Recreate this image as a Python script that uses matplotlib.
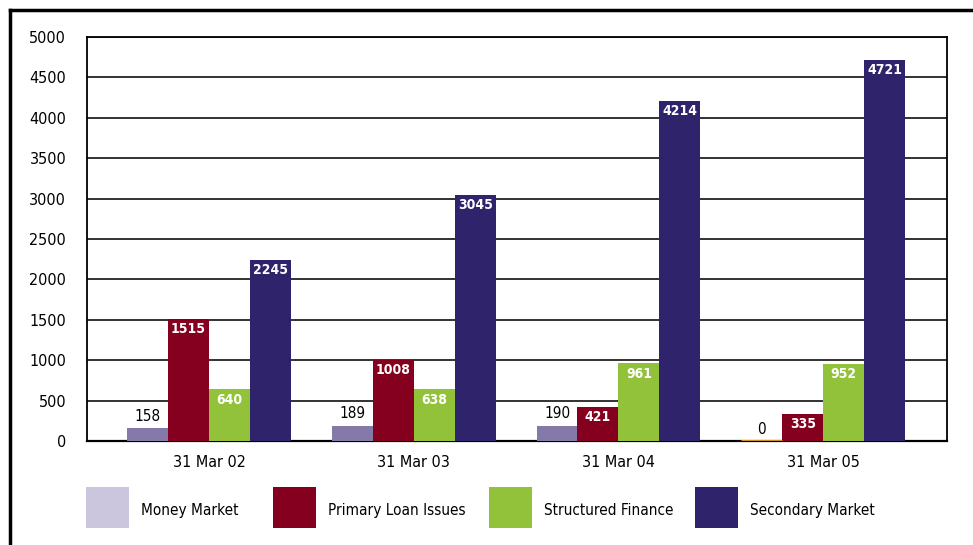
import matplotlib.pyplot as plt
import numpy as np
from matplotlib.patches import Rectangle
from matplotlib.lines import Line2D

plt.rcParams['font.family'] = ['DejaVu Sans']
plt.rcParams['font.stretch'] = 'condensed'

dates = ['31 Mar 02', '31 Mar 03', '31 Mar 04', '31 Mar 05']
money_market = [158, 189, 190, 0]
primary_loans = [1515, 1008, 421, 335]
structured = [640, 638, 961, 952]
secondary = [2245, 3045, 4214, 4721]

series_names = ['Money Market', 'Primary Loan Issues', 'Structured Finance', 'Secondary Market']
bar_colors = ['#8579a9', '#85001f', '#92c23a', '#2f246b']
key_colors = ['#cbc6de', '#85001f', '#92c23a', '#2f246b']

fig = plt.figure(figsize=(9.73, 5.45), dpi=100)
ax = fig.add_axes([0.0894, 0.1908, 0.8839, 0.7413])

x = np.arange(len(dates))
w = 0.2
all_series = [money_market, primary_loans, structured, secondary]
for k, vals in enumerate(all_series):
    xs = x + (k - 1.5) * w
    cols = [bar_colors[k]] * len(vals)
    if k == 0:
        # zero bar shows up as a thin orange line on the baseline
        cols = [('#e8a020' if v == 0 else bar_colors[k]) for v in vals]
    ax.bar(xs, vals, width=w, color=cols, zorder=3, linewidth=0)
    for xi, v, c in zip(xs, vals, cols):
        if k == 0:
            if v == 0:
                ax.plot([xi - w / 2, xi + w / 2], [0, 0], color=c, lw=2, zorder=4,
                        solid_capstyle='butt')
            ax.text(xi, v + 55, str(v), ha='center', va='bottom', fontsize=11,
                    color='black', zorder=5)
        else:
            ax.text(xi, v - 40, str(v), ha='center', va='top', fontsize=10,
                    color='white', fontweight='bold', zorder=5)

ax.set_xlim(-0.596, 3.605)
ax.set_ylim(0, 5000)
ax.set_yticks(np.arange(0, 5001, 500))
ax.set_xticks(x)
ax.set_xticklabels(dates)
ax.tick_params(axis='both', length=0, labelsize=11.5, colors='black')
ax.tick_params(axis='y', pad=15)
ax.tick_params(axis='x', pad=10)
ax.yaxis.grid(True, color='#222222', lw=1.3, zorder=1)
ax.set_axisbelow(True)
for side in ['top', 'right', 'left']:
    ax.spines[side].set_linewidth(1.3)
ax.spines['bottom'].set_linewidth(1.6)

# legend keys along the bottom
W, H = 973.0, 545.0
key_x = [86, 273, 489, 695]
for name, col, kx in zip(series_names, key_colors, key_x):
    fig.add_artist(Rectangle((kx / W, 1 - 528 / H), 43 / W, 41 / H,
                             transform=fig.transFigure, color=col, lw=0))
    fig.text((kx + 55) / W, 1 - 509 / H, name, fontsize=11,
             va='center_baseline', ha='left')

# outer frame on top and left
fig.add_artist(Line2D([10 / W, 1], [1 - 10 / H, 1 - 10 / H], transform=fig.transFigure,
                      color='black', lw=2.5))
fig.add_artist(Line2D([10 / W, 10 / W], [0, 1 - 10 / H], transform=fig.transFigure,
                      color='black', lw=2.5))

fig.savefig('out.png', dpi=100)
